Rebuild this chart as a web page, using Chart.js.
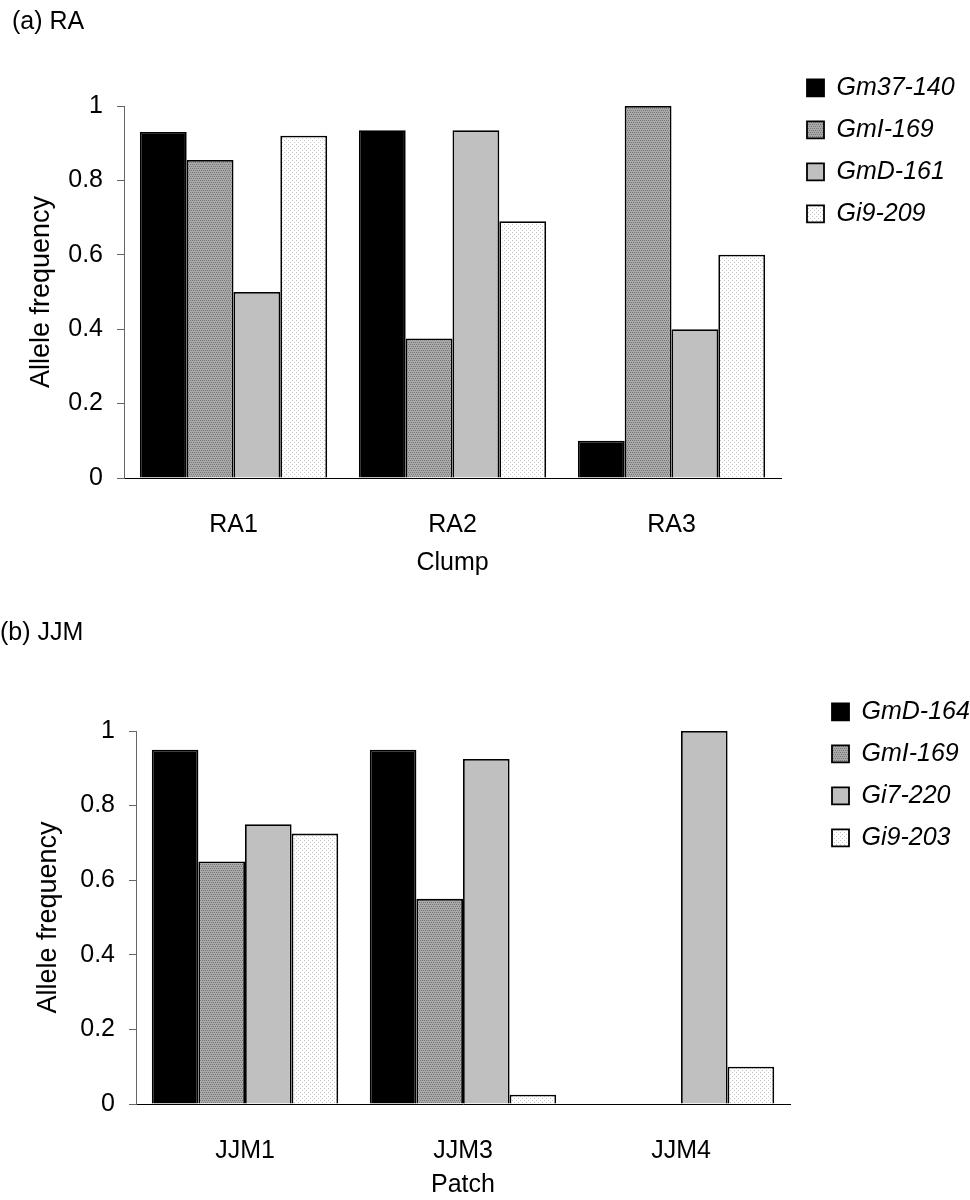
<!DOCTYPE html>
<html>
<head>
<meta charset="utf-8">
<script src="https://cdn.jsdelivr.net/npm/chart.js@4.4.0/dist/chart.umd.min.js"></script>
<style>
    body { margin: 0; background: #fff; }
    .panel { position: relative; width: 970px; height: 600px; }
</style>
</head>
<body>
<div class="panel"><canvas id="chartA" width="970" height="600"></canvas></div>
<div class="panel"><canvas id="chartB" width="970" height="600"></canvas></div>
<script>
// (a) RA - clumps
const clumps = ['RA1', 'RA2', 'RA3'];
const lociA = ['Gm37-140', 'GmI-169', 'GmD-161', 'Gi9-209'];
const gm37_140 = [0.93, 0.935, 0.10];
const gmI_169a = [0.855, 0.375, 1.0];
const gmD_161 = [0.50, 0.935, 0.40];
const gi9_209 = [0.92, 0.69, 0.60];

// (b) JJM - patches
const patches = ['JJM1', 'JJM3', 'JJM4'];
const lociB = ['GmD-164', 'GmI-169', 'Gi7-220', 'Gi9-203'];
const gmD_164 = [0.95, 0.95, 0];
const gmI_169b = [0.65, 0.55, 0];
const gi7_220 = [0.75, 0.925, 1.0];
const gi9_203 = [0.725, 0.025, 0.10];

const yTicks = [0, 0.2, 0.4, 0.6, 0.8, 1];

const FONT = '"Liberation Sans", Arial, sans-serif';

// small dot textures like the old Excel fills
function dotPattern(bg, dot, size, pts) {
    const c = document.createElement('canvas');
    c.width = c.height = size;
    const g = c.getContext('2d');
    g.fillStyle = bg;
    g.fillRect(0, 0, size, size);
    g.fillStyle = dot;
    pts.forEach(p => g.fillRect(p[0], p[1], 1, 1));
    return g.createPattern(c, 'repeat');
}

const fills = [
    '#000000',
    dotPattern('#a9a9a9', '#767676', 4, [[0, 0], [2, 0], [1, 2], [3, 2]]),
    '#c0c0c0',
    dotPattern('#ffffff', '#c4c4c4', 4, [[0, 0], [2, 2]])
];

function makeChart(id, title, cats, names, series, xTitle, lay) {
    return new Chart(document.getElementById(id), {
        type: 'bar',
        data: {
            labels: cats,
            datasets: names.map((n, i) => ({
                label: n,
                data: series[i],
                backgroundColor: fills[i],
                borderColor: '#000',
                borderWidth: 1.8
            }))
        },
        options: {
            responsive: false,
            animation: false,
            devicePixelRatio: 1,
            layout: { padding: { left: lay.padLeft, right: lay.padRight, top: 0, bottom: lay.padBottom } },
            datasets: { bar: { categoryPercentage: 0.855, barPercentage: 1 } },
            plugins: {
                title: {
                    display: true, text: title, align: 'start', color: '#000',
                    font: { family: FONT, size: 25, weight: 'normal' },
                    padding: { top: lay.titleTop, bottom: lay.titleBottom }
                },
                legend: {
                    position: 'right', align: 'start',
                    maxWidth: lay.legendWidth,
                    title: { display: true, text: '', font: { size: 12 }, padding: { top: lay.legendTop, bottom: 0 } },
                    labels: {
                        boxWidth: 17, boxHeight: 17, padding: 17, color: '#000',
                        font: { family: FONT, size: 25, style: 'italic' }
                    }
                },
                tooltip: { enabled: false }
            },
            scales: {
                x: {
                    grid: { display: false },
                    border: { display: true, color: '#000', width: 1 },
                    ticks: { color: '#000', padding: 24, font: { family: FONT, size: 25 } },
                    title: {
                        display: true, text: xTitle, color: '#000',
                        font: { family: FONT, size: 25 }, padding: { top: 0, bottom: lay.xTitlePad }
                    },
                    afterFit: s => { s.height = lay.xHeight; }
                },
                y: {
                    min: 0, max: 1,
                    afterBuildTicks: s => { s.ticks = yTicks.map(v => ({ value: v })); },
                    grid: { display: true, drawOnChartArea: false, drawTicks: true, tickLength: 7, color: '#666' },
                    border: { display: true, color: '#666', width: 1 },
                    ticks: { color: '#000', padding: 14, font: { family: FONT, size: 25 }, callback: v => String(v) },
                    title: {
                        display: true, text: 'Allele frequency', color: '#000',
                        font: { family: FONT, size: 27 }, padding: { top: lay.yTitlePad, bottom: 0 }
                    },
                    afterFit: s => { s.width = lay.yWidth; }
                },
                // empty spacer between the plot and the legend
                gap: {
                    type: 'linear', position: 'right', display: true,
                    grid: { display: false }, border: { display: false }, ticks: { display: false },
                    afterFit: s => { s.width = lay.gap; }
                }
            }
        }
    });
}

makeChart('chartA', '(a) RA', clumps, lociA, [gm37_140, gmI_169a, gmD_161, gi9_209], 'Clump', {
    padLeft: 12, padRight: 10, padBottom: 22, titleTop: 7, titleBottom: 69,
    legendTop: 44, legendWidth: 170, xHeight: 100, xTitlePad: 0, yWidth: 112, yTitlePad: 13, gap: 9
});

makeChart('chartB', '(b) JJM', patches, lociB, [gmD_164, gmI_169b, gi7_220, gi9_203], 'Patch', {
    padLeft: 0, padRight: 0, padBottom: 0, titleTop: 18, titleBottom: 83,
    legendTop: 68, legendWidth: 155, xHeight: 96, xTitlePad: 0, yWidth: 136, yTitlePad: 32, gap: 25
});
</script>
</body>
</html>
